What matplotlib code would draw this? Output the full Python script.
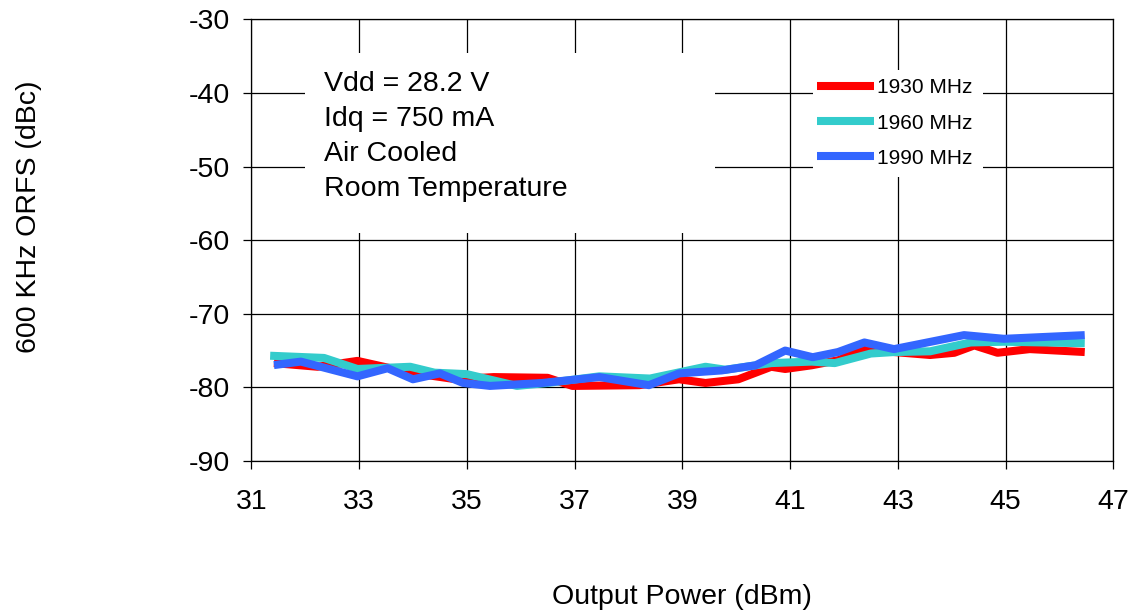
import matplotlib
matplotlib.use("Agg")
import matplotlib.pyplot as plt
from matplotlib.patches import Rectangle

plt.rcParams['font.family'] = ['Liberation Sans', 'DejaVu Sans']

# ---- data ----
x_1930 = [31.42, 32.23, 32.97, 33.95, 34.8, 35.5, 36.5, 36.96, 38.2, 38.94, 39.43, 40.04, 40.65, 40.91, 41.4, 41.9, 42.38, 42.93, 43.6, 44.05, 44.42, 44.85, 45.45, 46.47]
y_1930 = [-76.7, -77.2, -76.4, -78.0, -78.9, -78.6, -78.7, -79.8, -79.7, -78.9, -79.4, -78.9, -77.2, -77.5, -77.0, -76.3, -74.7, -75.2, -75.6, -75.3, -74.3, -75.3, -74.8, -75.2]

x_1960 = [31.35, 32.35, 32.97, 33.95, 34.4, 35.0, 35.93, 36.5, 37.46, 38.4, 39.43, 39.8, 40.65, 41.4, 41.83, 42.5, 42.93, 43.6, 44.35, 44.97, 46.47]
y_1960 = [-75.7, -76.0, -77.5, -77.2, -78.0, -78.2, -79.8, -79.4, -78.5, -78.8, -77.2, -77.6, -76.7, -76.5, -76.7, -75.4, -75.2, -75.1, -73.9, -73.8, -74.0]

x_1990 = [31.42, 31.92, 32.97, 33.53, 34.0, 34.5, 34.93, 35.43, 36.4, 37.46, 38.38, 38.94, 39.73, 40.36, 40.91, 41.42, 41.89, 42.38, 42.93, 44.23, 44.97, 46.47]
y_1990 = [-76.97, -76.5, -78.5, -77.4, -78.9, -78.1, -79.4, -79.8, -79.4, -78.6, -79.7, -78.1, -77.7, -77.0, -75.0, -75.9, -75.2, -73.9, -74.8, -72.9, -73.4, -72.9]

series_labels = ['1930 MHz', '1960 MHz', '1990 MHz']
series_colors = ['#FF0000', '#33CCCC', '#3366FF']

x_ticks = [31, 33, 35, 37, 39, 41, 43, 45, 47]
y_ticks = [-90, -80, -70, -60, -50, -40, -30]

notes = ['Vdd = 28.2 V', 'Idq = 750 mA', 'Air Cooled', 'Room Temperature']

# ---- figure ----
fig = plt.figure(figsize=(11.34, 6.12), dpi=100)
ax = fig.add_axes([251.3 / 1134, 1 - 461 / 612, (1113.3 - 251.3) / 1134, (461 - 19.3) / 612])

ax.set_xlim(31, 47)
ax.set_ylim(-90, -30)
ax.set_xticks(x_ticks)
ax.set_yticks(y_ticks)
ax.set_xticklabels([str(t) for t in x_ticks])
ax.set_yticklabels([str(t) for t in y_ticks])

ax.set_axisbelow(True)
ax.grid(True, color='black', linewidth=0.9, zorder=0)
for s in ax.spines.values():
    s.set_color('black')
    s.set_linewidth(0.9)
ax.tick_params(axis='both', direction='out', length=6, width=0.9, labelsize=20.5, colors='black')
ax.tick_params(axis='x', pad=14)
ax.tick_params(axis='y', pad=9)

# white boxes behind the annotation and legend
ax.add_patch(Rectangle((32.0, -59.04), 39.60 - 32.0, 59.04 - 34.58,
                       facecolor='white', edgecolor='none', zorder=1))
ax.add_patch(Rectangle((41.42, -51.43), 44.59 - 41.42, 51.43 - 36.89,
                       facecolor='white', edgecolor='none', zorder=1))

xs = [x_1930, x_1960, x_1990]
ys = [y_1930, y_1960, y_1990]
handles = []
for xv, yv, lab, col in zip(xs, ys, series_labels, series_colors):
    ln, = ax.plot(xv, yv, color=col, linewidth=5.8, solid_joinstyle='round',
                  solid_capstyle='butt', label=lab, zorder=2)
    handles.append(ln)

leg = ax.legend(handles=handles, loc='upper left', bbox_to_anchor=(0.6566, 0.866),
                frameon=False, fontsize=15, handlelength=2.7, handletextpad=0.15,
                labelspacing=0.77, borderpad=0, borderaxespad=0)
for h in leg.get_lines():
    h.set_linewidth(5.8)

note_y = [-39.73, -44.48, -49.2, -53.95]
for t, yy in zip(notes, note_y):
    ax.text(32.35, yy, t, fontsize=20.5, ha='left', va='baseline', zorder=3)

ax.set_xlabel('Output Power (dBm)', fontsize=20.5)
ax.xaxis.set_label_coords(0.5, -0.3077)
ax.xaxis.label.set_va('center')
ax.set_ylabel('600 KHz ORFS (dBc)', fontsize=20.5)
ax.yaxis.set_label_coords(-0.258, 0.554)
ax.yaxis.label.set_va('center')

fig.savefig('out.png', dpi=100)
